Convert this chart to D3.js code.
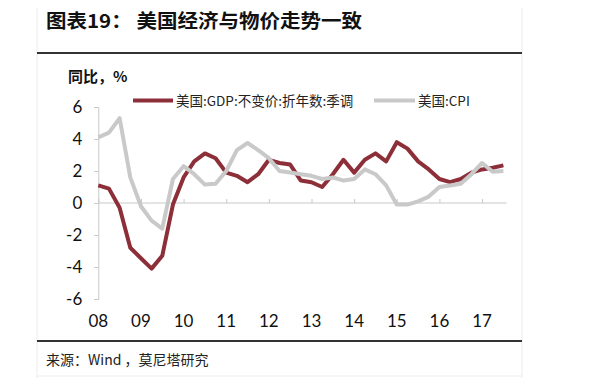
<!DOCTYPE html>
<html>
<head>
<meta charset="utf-8">
<script src="https://cdn.jsdelivr.net/npm/d3@7"></script>
<style>
    body { margin: 0; background: #fff; }
    svg { display: block; }
</style>
</head>
<body>
<svg id="chart" width="610" height="384"></svg>
<script>
// quarterly, 2008Q1 .. 2017Q3
const quarters = d3.range(39);
const yearLabels = ['08', '09', '10', '11', '12', '13', '14', '15', '16', '17'];
const yTicks = [-6, -4, -2, 0, 2, 4, 6];

const gdp = [1.1, 0.9, -0.3, -2.8, -3.45, -4.1, -3.3, -0.1, 1.6, 2.6,
    3.1, 2.8, 1.9, 1.7, 1.3, 1.8, 2.7, 2.5, 2.4, 1.4,
    1.3, 1.0, 1.8, 2.7, 1.9, 2.7, 3.1, 2.6, 3.8, 3.4,
    2.6, 2.1, 1.5, 1.3, 1.5, 1.9, 2.1, 2.2, 2.35];
const cpi = [4.1, 4.4, 5.3, 1.6, -0.2, -1.1, -1.6, 1.5, 2.3, 1.8,
    1.15, 1.2, 2.0, 3.3, 3.75, 3.3, 2.8, 2.0, 1.9, 1.8,
    1.7, 1.5, 1.6, 1.4, 1.5, 2.1, 1.8, 1.1, -0.1, -0.1,
    0.1, 0.4, 1.0, 1.1, 1.2, 1.8, 2.5, 1.95, 2.0];

const seriesNames = ['美国:GDP:不变价:折年数:季调', '美国:CPI'];
const seriesColors = ['#8c2f39', '#c9c9c9'];

const svg = d3.select('#chart');
const cjk = '"Noto Sans CJK SC", "Noto Sans", sans-serif';
const numFont = 'Lato, "Open Sans", sans-serif';

// frame
svg.append('line').attr('x1', 37).attr('x2', 37).attr('y1', 8).attr('y2', 378)
    .style('stroke', '#ececec');
svg.append('line').attr('x1', 522).attr('x2', 522).attr('y1', 8).attr('y2', 378)
    .style('stroke', '#ececec');
svg.append('line').attr('x1', 37).attr('x2', 522).attr('y1', 53).attr('y2', 53)
    .style('stroke', '#333').style('stroke-width', 2);
svg.append('line').attr('x1', 37).attr('x2', 522).attr('y1', 341).attr('y2', 341)
    .style('stroke', '#333').style('stroke-width', 2);
svg.append('line').attr('x1', 37).attr('x2', 522).attr('y1', 376).attr('y2', 376)
    .style('stroke', '#ececec');

// title
svg.append('text')
    .attr('x', 46).attr('y', 28)
    .style('font-family', cjk).style('font-weight', 'bold').style('font-size', '19px')
    .style('fill', '#111')
    .text('图表19：  美国经济与物价走势一致')
    .attr('textLength', 316).attr('lengthAdjust', 'spacingAndGlyphs');

// source
svg.append('text')
    .attr('x', 46).attr('y', 365)
    .style('font-family', cjk).style('font-size', '14px').style('fill', '#222')
    .text('来源：Wind ，莫尼塔研究');

const x = d3.scaleLinear().domain([0, 38]).range([98.3, 503.4]);
const y = d3.scaleLinear().domain([-6, 6]).range([299, 107]);

// y axis
const yAxis = svg.append('g')
    .attr('transform', 'translate(98.3,0)')
    .call(d3.axisLeft(y).tickValues(yTicks).tickSize(4).tickPadding(12)
        .tickFormat(d3.format('d')));
yAxis.select('.domain').style('stroke', '#c8c8c8');
yAxis.selectAll('.tick line').style('stroke', '#c8c8c8');
yAxis.selectAll('.tick text')
    .style('font-family', numFont).style('font-size', '17px').style('fill', '#111')
    .text(d => d < 0 ? '-' + Math.abs(d) : d);

// x axis on zero line
const xAxis = svg.append('g')
    .attr('transform', `translate(0,${y(0)})`)
    .call(d3.axisTop(x).tickValues(d3.range(0, 39, 4)).tickSize(4).tickSizeOuter(0)
        .tickFormat(''));
xAxis.select('.domain').attr('d', `M${x(0)},0H${x(38.3)}`).style('stroke', '#c8c8c8');
xAxis.selectAll('.tick line').style('stroke', '#c8c8c8');

svg.append('g').selectAll('text')
    .data(yearLabels)
    .join('text')
    .attr('x', (d, i) => x(i * 4))
    .attr('y', 327)
    .attr('text-anchor', 'middle')
    .style('font-family', numFont).style('font-size', '17px').style('fill', '#111')
    .text(d => d);

// y label
svg.append('text')
    .attr('x', 68).attr('y', 82)
    .style('font-family', cjk).style('font-weight', 'bold').style('font-size', '15px')
    .style('fill', '#111')
    .text('同比，%');

// lines
const line = d3.line()
    .x((d, i) => x(quarters[i]))
    .y(d => y(d));

[gdp, cpi].forEach((s, k) => {
    svg.append('path')
        .datum(s)
        .attr('d', line)
        .style('fill', 'none')
        .style('stroke', seriesColors[k])
        .style('stroke-width', 4)
        .style('stroke-linejoin', 'round');
});

// legend
const legendItems = [
    { x: 133, w: 40, tx: 176 },
    { x: 374, w: 41, tx: 418 }
];
legendItems.forEach((it, k) => {
    svg.append('line')
        .attr('x1', it.x).attr('x2', it.x + it.w)
        .attr('y1', 100.5).attr('y2', 100.5)
        .style('stroke', seriesColors[k]).style('stroke-width', 4);
    svg.append('text')
        .attr('x', it.tx).attr('y', 105.5)
        .style('font-family', cjk).style('font-size', '13.5px').style('fill', '#222')
        .text(seriesNames[k]);
});
</script>
</body>
</html>
